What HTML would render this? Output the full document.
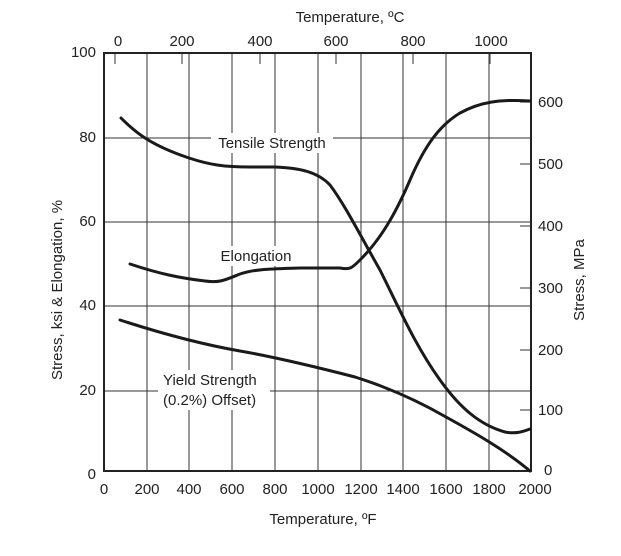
<!DOCTYPE html><html><head><style>body{margin:0;background:#fff}svg text{font-family:"Liberation Sans",sans-serif;fill:#222}</style></head><body>
<svg width="621" height="551" xmlns="http://www.w3.org/2000/svg">
<g stroke="#333" stroke-width="1">
<line x1="147" y1="53" x2="147" y2="471"/><line x1="189" y1="53" x2="189" y2="471"/><line x1="232" y1="53" x2="232" y2="471"/><line x1="275" y1="53" x2="275" y2="471"/><line x1="318" y1="53" x2="318" y2="471"/><line x1="361" y1="53" x2="361" y2="471"/><line x1="403" y1="53" x2="403" y2="471"/><line x1="446" y1="53" x2="446" y2="471"/><line x1="489" y1="53" x2="489" y2="471"/>
<line x1="104" y1="138" x2="531" y2="138"/><line x1="104" y1="222" x2="531" y2="222"/><line x1="104" y1="306" x2="531" y2="306"/><line x1="104" y1="391" x2="531" y2="391"/>
</g>
<g stroke="#555" stroke-width="1.2">
<line x1="115" y1="53" x2="115" y2="64"/><line x1="182" y1="53" x2="182" y2="64"/><line x1="260" y1="53" x2="260" y2="64"/><line x1="336" y1="53" x2="336" y2="64"/><line x1="413" y1="53" x2="413" y2="64"/><line x1="490" y1="53" x2="490" y2="64"/>
<line x1="520" y1="102" x2="531" y2="102"/><line x1="520" y1="164" x2="531" y2="164"/><line x1="520" y1="226" x2="531" y2="226"/><line x1="520" y1="288" x2="531" y2="288"/><line x1="520" y1="350" x2="531" y2="350"/><line x1="520" y1="410" x2="531" y2="410"/>
</g>
<rect x="104" y="53" width="427" height="418" fill="none" stroke="#222" stroke-width="2"/>
<rect x="211" y="133" width="122" height="20" fill="#fff"/>
<rect x="214" y="246" width="84" height="20" fill="#fff"/>
<rect x="158" y="370" width="112" height="40" fill="#fff"/>
<g fill="none" stroke="#1a1a1a" stroke-width="3" stroke-linecap="round">
<path d="M121,118 C135,132 150,145 189,158 C210,165 225,167 250,167 L275,167 C300,168 318,172 330,185 C345,205 360,235 380,270 C400,310 415,345 440,380 C460,408 480,425 505,432 C515,434 522,432 530,429"/>
<path d="M130,264 C160,274 180,278 205,281 C220,283 225,280 240,274 C255,269 270,269 300,268 L340,268 C350,270 352,268 360,260 C380,240 395,215 410,180 C425,145 440,125 460,113 C480,102 500,99 530,101"/>
<path d="M120,320 C160,333 200,344 240,351 C280,358 320,368 355,377 C390,388 420,402 446,417 C475,433 505,450 530,471"/>
</g>
<g font-size="15">
<text x="272" y="148" text-anchor="middle">Tensile Strength</text>
<text x="256" y="261" text-anchor="middle">Elongation</text>
<text x="163" y="385">Yield Strength</text>
<text x="163" y="405">(0.2%) Offset)</text>
<text x="350" y="22" text-anchor="middle">Temperature, ºC</text>
<text x="323" y="524" text-anchor="middle">Temperature, ºF</text>
<text transform="translate(62,290) rotate(-90)" text-anchor="middle">Stress, ksi &amp; Elongation, %</text>
<text transform="translate(584,280) rotate(-90)" text-anchor="middle">Stress, MPa</text>
</g>
<g font-size="15" text-anchor="middle">
<text x="118" y="46">0</text><text x="182" y="46">200</text><text x="260" y="46">400</text><text x="336" y="46">600</text><text x="413" y="46">800</text><text x="491" y="46">1000</text>
<text x="104" y="494">0</text><text x="147" y="494">200</text><text x="189" y="494">400</text><text x="232" y="494">600</text><text x="275" y="494">800</text><text x="318" y="494">1000</text><text x="361" y="494">1200</text><text x="403" y="494">1400</text><text x="446" y="494">1600</text><text x="489" y="494">1800</text><text x="535" y="494">2000</text>
</g>
<g font-size="15" text-anchor="end">
<text x="96" y="57">100</text><text x="96" y="142">80</text><text x="96" y="226">60</text><text x="96" y="310">40</text><text x="96" y="395">20</text><text x="96" y="479">0</text>
</g>
<g font-size="15">
<text x="538" y="107">600</text><text x="538" y="169">500</text><text x="538" y="231">400</text><text x="538" y="293">300</text><text x="538" y="355">200</text><text x="538" y="415">100</text><text x="544" y="475">0</text>
</g>
</svg></body></html>
